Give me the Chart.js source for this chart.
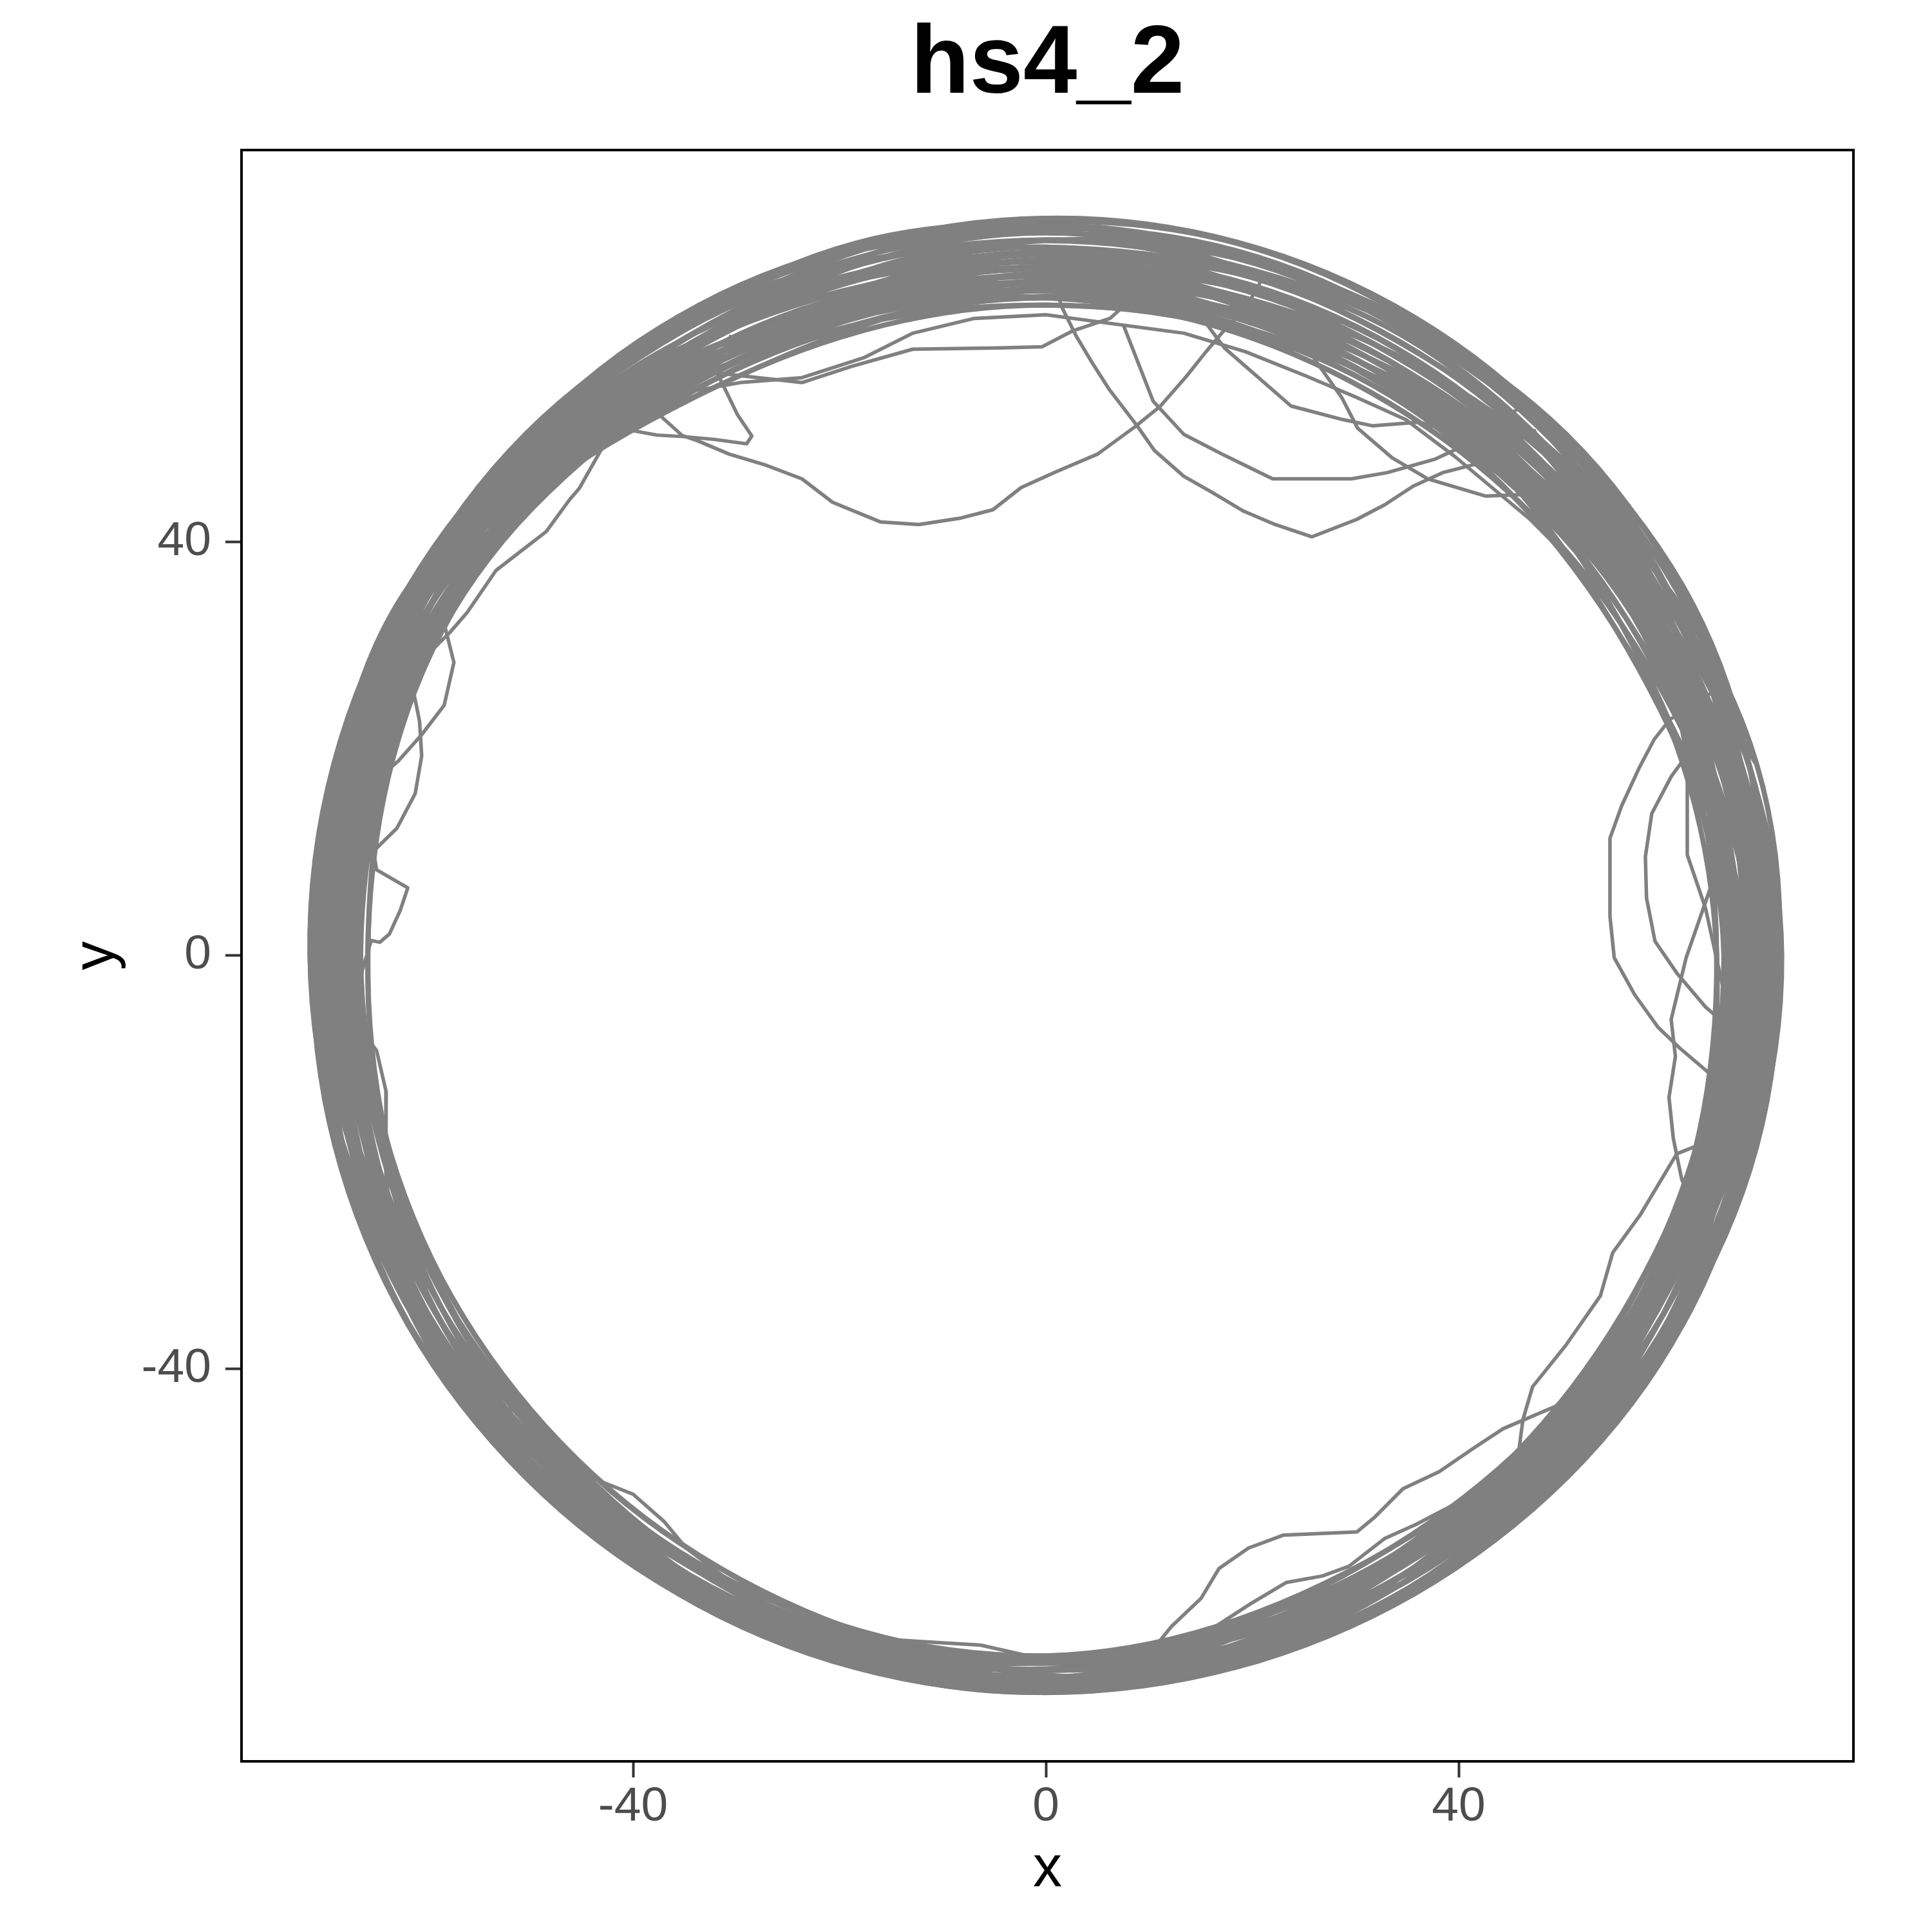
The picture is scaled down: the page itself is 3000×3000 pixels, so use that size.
<!DOCTYPE html>
<html>
<head>
<meta charset="utf-8">
<title>hs4_2</title>
<script src="https://cdn.jsdelivr.net/npm/chart.js@4.4.0/dist/chart.umd.min.js"></script>
<style>
    html, body { margin: 0; padding: 0; background: #ffffff; }
    #wrap { width: 3000px; height: 3000px; }
</style>
</head>
<body>
<div id="wrap"><canvas id="trackChart" width="3000" height="3000"></canvas></div>
<script>
// --- DATOS (unidades del eje) ---
const xTicks = [-40, 0, 40];
const yTicks = [-40, 0, 40];

// vueltas pegadas a la pared, un punto cada 30 grados (0, 30, ... 330)
const wallLaps1 = [
    [71.3,0],[61.14,35.3],[35.65,61.75],[0,71.3],[-35.3,61.14],[-61.75,35.65],[-71.3,0],[-61.14,-35.3],[-35.65,-61.75],[0,-71.3],[35.3,-61.14],[61.75,-35.65],
    [69.9,0],[61.75,35.65],[34.95,60.53],[0,70.6],[-35.65,61.75],[-60.53,34.95],[-70.6,0],[-61.75,-35.65],[-34.95,-60.53],[0,-70.6],[35.65,-61.75],[60.53,-34.95],
    [70.6,0],[59.93,34.6],[35.3,61.14],[0,69.2],[-34.95,60.53],[-61.14,35.3],[-69.2,0],[-60.53,-34.95],[-35.3,-61.14],[0,-71.3],[34.95,-60.53],[61.14,-35.3],
    [68.5,0],[60.53,34.95],[34.25,59.32],[0,69.9],[-34.25,59.32],[-59.93,34.6],[-69.9,0],[-59.32,-34.25],[-34.6,-59.93],[0,-69.9],[34.25,-59.32],[59.93,-34.6]
];
const wallLaps2 = [
    [69.2,0],[58.71,33.9],[34.6,59.93],[0,67.8],[-34.6,59.93],[-59.32,34.25],[-67.8,0],[-59.93,-34.6],[-34.25,-59.32],[0,-69.2],[34.6,-59.93],[58.71,-33.9],
    [67.8,0],[59.32,34.25],[33.55,58.11],[0,68.5],[-33.9,58.71],[-60.53,34.95],[-68.5,0],[-58.71,-33.9],[-34.95,-60.53],[0,-68.5],[33.9,-58.71],[59.32,-34.25],
    [67.1,0],[57.5,33.2],[33.9,58.71],[0,66.4],[-33.55,58.11],[-58.71,33.9],[-67.1,0],[-58.11,-33.55],[-33.9,-58.71],[0,-67.8],[33.55,-58.11],[58.11,-33.55],
    [66.4,0],[58.11,33.55],[32.85,56.9],[0,67.1],[-33.2,57.5],[-58.11,33.55],[-66.4,0],[-57.5,-33.2],[-33.55,-58.11],[0,-68.5],[33.2,-57.5],[57.5,-33.2]
];
const wallLaps3 = [
    [65.7,0],[55.68,32.15],[33.2,57.5],[0,65.0],[-32.85,56.9],[-57.5,33.2],[-65.7,0],[-58.11,-33.55],[-34.25,-59.32],[0,-67.8],[33.9,-58.71],[57.5,-33.2],
    [65.0,0],[56.9,32.85],[32.15,55.68],[0,65.7],[-32.5,56.29],[-58.71,33.9],[-66.4,0],[-58.71,-33.9],[-34.6,-59.93],[0,-69.9],[33.55,-58.11],[58.11,-33.55],
    [66.4,0],[55.08,31.8],[32.5,56.29],[0,63.6],[-32.15,55.68],[-59.32,34.25],[-67.1,0],[-59.32,-34.25],[-34.95,-60.53],[0,-70.6],[34.25,-59.32],[58.71,-33.9],
    [67.1,0],[56.29,32.5],[31.8,55.08],[0,64.3],[-32.85,56.9],[-59.93,34.6],[-67.8,0],[-59.93,-34.6],[-35.3,-61.14],[0,-71.3],[34.6,-59.93],[59.32,-34.25]
];
const wallLaps4 = [
    [67.8,0],[55.68,32.15],[31.45,54.47],[0,63.6],[-33.2,57.5],[-60.53,34.95],[-68.5,0],[-60.53,-34.95],[-35.65,-61.75],[0,-70.6],[34.95,-60.53],[59.93,-34.6],
    [68.5,0],[56.9,32.85],[32.15,55.68],[0,62.9],[-32.5,56.29],[-61.14,35.3],[-69.2,0],[-61.14,-35.3],[-34.95,-60.53],[0,-71.3],[35.3,-61.14],[60.53,-34.95],
    [69.9,0],[57.5,33.2],[32.5,56.29],[0,64.3],[-31.8,55.08],[-61.75,35.65],[-69.9,0],[-61.75,-35.65],[-35.3,-61.14],[0,-69.9],[35.65,-61.75],[61.14,-35.3],
    [70.6,0],[58.71,33.9],[33.2,57.5],[0,65.7],[-33.55,58.11],[-61.14,35.3],[-70.6,0],[-61.75,-35.65],[-35.65,-61.75],[0,-70.6],[35.65,-61.75],[61.75,-35.65],[71.3,0]
];

// mas vueltas, puntos a 15, 45, ... 345 grados
const wallLaps5 = [
    [68.88,18.47],[49.91,49.91],[18.47,68.88],[-18.29,68.2],[-50.41,50.41],[-68.2,18.29],[-68.88,-18.47],[-50.41,-50.41],[-18.29,-68.2],[18.47,-68.88],[49.91,-49.91],[68.88,-18.47],
    [68.2,18.29],[50.41,50.41],[18.1,67.52],[-18.47,68.88],[-49.42,49.42],[-68.88,18.47],[-68.2,-18.29],[-49.91,-49.91],[-18.47,-68.88],[18.29,-68.2],[50.41,-50.41],[68.2,-18.29],
    [67.52,18.1],[49.42,49.42],[18.29,68.2],[-18.1,67.52],[-49.91,49.91],[-67.52,18.1],[-67.52,-18.1],[-50.41,-50.41],[-18.1,-67.52],[18.1,-67.52],[49.42,-49.42],[67.52,-18.1],
    [66.85,17.92],[49.91,49.91],[17.92,66.85],[-17.92,66.85],[-48.92,48.92],[-68.2,18.29],[-66.85,-17.92],[-49.42,-49.42],[-18.47,-68.88],[18.29,-68.2],[48.92,-48.92],[66.85,-17.92]
];
const wallLaps6 = [
    [66.17,17.74],[48.92,48.92],[18.1,67.52],[-17.74,66.17],[-49.42,49.42],[-66.85,17.92],[-66.17,-17.74],[-49.91,-49.91],[-17.92,-66.85],[18.47,-68.88],[49.42,-49.42],[66.17,-17.74],
    [65.49,17.56],[48.43,48.43],[17.74,66.17],[-17.56,65.49],[-48.43,48.43],[-66.17,17.74],[-65.49,-17.56],[-48.92,-48.92],[-18.1,-67.52],[18.1,-67.52],[48.43,-48.43],[65.49,-17.56],
    [64.82,17.38],[47.93,47.93],[17.56,65.49],[-17.38,64.82],[-48.92,48.92],[-65.49,17.56],[-64.82,-17.38],[-48.43,-48.43],[-17.74,-66.17],[18.29,-68.2],[47.93,-47.93],[64.82,-17.38],
    [64.14,17.2],[47.44,47.44],[17.38,64.82],[-17.2,64.14],[-47.93,47.93],[-64.82,17.38],[-64.14,-17.2],[-47.93,-47.93],[-18.29,-68.2],[17.92,-66.85],[47.44,-47.44],[64.14,-17.2]
];
const wallLaps7 = [
    [63.47,17.02],[46.94,46.94],[17.2,64.14],[-17.02,63.47],[-47.44,47.44],[-64.14,17.2],[-64.82,-17.38],[-47.44,-47.44],[-17.92,-66.85],[17.74,-66.17],[46.94,-46.94],[63.47,-17.02],
    [64.82,17.38],[46.45,46.45],[17.02,63.47],[-16.84,62.79],[-46.94,46.94],[-64.82,17.38],[-65.49,-17.56],[-47.93,-47.93],[-17.74,-66.17],[17.56,-65.49],[48.43,-48.43],[64.82,-17.38],
    [65.49,17.56],[45.96,45.96],[16.84,62.79],[-16.65,62.11],[-46.45,46.45],[-65.49,17.56],[-66.17,-17.74],[-48.43,-48.43],[-17.56,-65.49],[17.92,-66.85],[48.92,-48.92],[65.49,-17.56],
    [66.17,17.74],[45.46,45.46],[16.65,62.11],[-16.47,61.44],[-47.44,47.44],[-66.17,17.74],[-66.85,-17.92],[-48.92,-48.92],[-18.1,-67.52],[18.1,-67.52],[49.42,-49.42],[66.17,-17.74]
];
const wallLaps8 = [
    [66.85,17.92],[46.45,46.45],[16.47,61.44],[-16.65,62.11],[-47.93,47.93],[-66.85,17.92],[-67.52,-18.1],[-49.42,-49.42],[-18.29,-68.2],[18.29,-68.2],[49.91,-49.91],[66.85,-17.92],
    [67.52,18.1],[46.94,46.94],[16.65,62.11],[-16.84,62.79],[-48.43,48.43],[-67.52,18.1],[-68.2,-18.29],[-49.91,-49.91],[-18.47,-68.88],[18.47,-68.88],[50.41,-50.41],[67.52,-18.1],
    [68.2,18.29],[47.44,47.44],[16.84,62.79],[-17.02,63.47],[-48.92,48.92],[-68.2,18.29],[-68.88,-18.47],[-50.41,-50.41],[-18.1,-67.52],[18.47,-68.88],[49.91,-49.91],[68.2,-18.29],
    [68.88,18.47],[48.43,48.43],[17.2,64.14],[-17.38,64.82],[-49.42,49.42],[-68.88,18.47],[-67.52,-18.1],[-49.91,-49.91],[-18.47,-68.88],[18.29,-68.2],[50.41,-50.41],[68.88,-18.47]
];
const wallLaps9 = [
    [70.6,0],[61.75,35.65],[35.3,61.14],[0,69.9],[-35.65,61.75],[-61.14,35.3],[-69.9,0],[-61.75,-35.65],[-35.3,-61.14],[0,-71.3],[34.95,-60.53],[61.14,-35.3],
    [71.3,0],[60.53,34.95],[35.65,61.75],[0,71.3],[-34.95,60.53],[-61.75,35.65],[-71.3,0],[-60.53,-34.95],[-35.65,-61.75],[0,-70.6],[35.65,-61.75],[61.75,-35.65],
    [69.2,0],[61.14,35.3],[34.95,60.53],[0,70.6],[-34.6,59.93],[-60.53,34.95],[-70.6,0],[-59.93,-34.6],[-34.95,-60.53],[0,-71.3],[35.3,-61.14],[59.93,-34.6],
    [69.9,0],[59.32,34.25],[34.6,59.93],[0,68.5],[-35.3,61.14],[-59.93,34.6],[-68.5,0],[-61.14,-35.3],[-34.6,-59.93],[0,-69.9],[34.6,-59.93],[60.53,-34.95]
];
const wallLaps10 = [
    [67.8,0],[60.53,34.95],[34.25,59.32],[0,69.2],[-33.9,58.71],[-59.32,34.25],[-69.2,0],[-58.71,-33.9],[-35.3,-61.14],[0,-69.2],[34.95,-60.53],[59.32,-34.25],
    [68.5,0],[58.11,33.55],[33.9,58.71],[0,67.1],[-34.25,59.32],[-58.11,33.55],[-67.8,0],[-59.32,-34.25],[-33.9,-58.71],[0,-68.5],[34.25,-59.32],[58.11,-33.55],
    [66.4,0],[58.71,33.9],[33.55,58.11],[0,67.8],[-33.2,57.5],[-58.71,33.9],[-66.4,0],[-58.11,-33.55],[-34.25,-59.32],[0,-67.8],[33.2,-57.5],[58.71,-33.9],
    [67.1,0],[56.9,32.85],[33.2,57.5],[0,65.7],[-33.55,58.11],[-57.5,33.2],[-67.1,0],[-57.5,-33.2],[-33.55,-58.11],[0,-69.2],[33.55,-58.11],[57.5,-33.2]
];
const wallLaps11 = [
    [65.7,0],[57.5,33.2],[32.5,56.29],[0,66.4],[-32.85,56.9],[-58.11,33.55],[-65.7,0],[-58.71,-33.9],[-34.6,-59.93],[0,-68.5],[33.9,-58.71],[58.11,-33.55],
    [65.0,0],[55.68,32.15],[32.85,56.9],[0,64.3],[-32.5,56.29],[-57.5,33.2],[-66.4,0],[-58.11,-33.55],[-34.25,-59.32],[0,-69.9],[33.55,-58.11],[56.9,-32.85],
    [66.4,0],[56.29,32.5],[32.15,55.68],[0,65.0],[-32.15,55.68],[-58.71,33.9],[-67.1,0],[-59.32,-34.25],[-34.95,-60.53],[0,-70.6],[33.9,-58.71],[57.5,-33.2],
    [67.1,0],[55.08,31.8],[31.8,55.08],[0,62.9],[-31.8,55.08],[-59.32,34.25],[-67.8,0],[-59.93,-34.6],[-35.3,-61.14],[0,-71.3],[34.25,-59.32],[58.11,-33.55]
];
const wallLaps12 = [
    [67.8,0],[55.68,32.15],[31.45,54.47],[0,63.6],[-32.15,55.68],[-59.93,34.6],[-68.5,0],[-60.53,-34.95],[-35.65,-61.75],[0,-70.6],[34.6,-59.93],[58.71,-33.9],
    [68.5,0],[56.29,32.5],[31.8,55.08],[0,64.3],[-32.5,56.29],[-60.53,34.95],[-69.2,0],[-61.14,-35.3],[-35.3,-61.14],[0,-71.3],[34.95,-60.53],[59.32,-34.25],
    [69.2,0],[57.5,33.2],[32.15,55.68],[0,65.0],[-32.85,56.9],[-61.14,35.3],[-69.9,0],[-61.75,-35.65],[-34.95,-60.53],[0,-71.3],[35.3,-61.14],[59.93,-34.6],
    [69.9,0],[58.11,33.55],[32.85,56.9],[0,66.4],[-33.55,58.11],[-61.75,35.65],[-70.6,0],[-61.75,-35.65],[-35.65,-61.75],[0,-70.6],[35.65,-61.75],[60.53,-34.95],[69.9,0]
];

// salidas hacia el centro
const topDip = [[-39.5,55.5],[-37.61,52.42],[-35.22,50.27],[-33.79,49.79],[-30.69,48.48],[-27.1,47.4],[-23.64,46.09],[-20.66,43.82],[-16.0,41.91],[-12.3,41.67],[-8.36,42.27],[-5.13,43.1],[-2.39,45.25],[1.07,46.81],[5.01,48.48],[8.6,51.1],[11.1,53.13],[13.61,56.0],[15.52,58.39],[17.55,60.78],[19.34,62.57],[21.0,65.5]];
const topRightDip = [[0.5,66.0],[1.55,62.69],[2.99,59.82],[4.42,57.43],[6.09,54.81],[8.84,51.22],[10.51,48.84],[13.37,46.33],[16.12,44.78],[19.1,42.99],[22.21,41.67],[25.79,40.48],[30.09,42.15],[32.84,43.58],[35.58,45.37],[38.45,46.69],[41.67,47.52],[44.66,49.19],[47.5,50.8]];
const topRightFlat = [[7.5,61.0],[10.39,53.61],[13.37,50.39],[17.31,48.36],[21.97,46.09],[29.61,46.09],[33.07,46.69],[37.73,48.0],[41.07,49.55],[43.82,51.22],[45.85,53.01]];
const topRightCross1 = [[14.5,62.5],[17.31,58.75],[23.76,53.13],[28.78,51.82],[31.64,51.22],[36.18,51.58],[40.12,50.39],[44.78,48.72],[48.0,45.85],[50.39,42.87],[54.5,39.0]];
const topRightCross2 = [[24.5,62.0],[26.03,57.67],[28.66,53.97],[30.21,50.99],[33.55,48.12],[37.01,46.09],[42.63,44.42],[48.6,44.66],[52.18,45.61]];
const topInnerArc = [[-43.94,53.01],[-34.99,54.45],[-29.61,55.4],[-23.64,55.88],[-17.67,57.79],[-12.9,60.18],[-6.93,61.61],[0,61.97],[6.21,61.13],[13.37,60.18],[19.34,58.39],[25.31,56.0],[30.09,53.97],[34.87,51.82],[39.64,48.24],[43.22,45.25],[46.81,42.27],[50.99,38.09]];
const topLeftArc = [[-34.39,56.6],[-23.64,55.4],[-18.87,56.96],[-12.9,58.63],[-4.54,58.75],[-0.36,58.87],[2.63,60.42],[6.21,61.61],[10.0,65.0]];
const upperLeftV = [[-43.94,51.82],[-40.74,50.88],[-37.67,50.32],[-35.16,50.18],[-32.11,49.9],[-28.99,49.48],[-28.49,50.23],[-29.87,52.27],[-30.81,54.21],[-32.0,56.6],[-30.5,60.0]];
const upperLeftDiag = [[-41.55,53.01],[-42.69,49.62],[-45.21,45.17],[-46.17,44.05],[-48.41,40.99],[-53.28,37.23],[-56.06,33.18],[-57.74,31.24],[-60.5,28.5]];
const leftLoopUpper = [[-56.48,36.3],[-58.2,31.69],[-57.36,28.32],[-58.3,24.18],[-60.48,21.34],[-62.77,18.76],[-64.01,17.72],[-66.5,15.5]];
const leftLoopMid = [[-61.85,27.94],[-61.21,25.22],[-60.69,22.64],[-60.48,19.27],[-61.11,15.64],[-62.88,12.29],[-64.74,10.47],[-67.0,8.0]];
const leftHook = [[-65.91,14.81],[-64.85,8.26],[-61.83,6.52],[-62.57,4.3],[-63.61,2.05],[-64.54,1.25],[-65.37,1.42],[-67.0,-4.0]];
const leftLineLow1 = [[-67.0,-4.5],[-65.68,-8.13],[-64.85,-9.24],[-63.92,-13.23],[-63.95,-21.18],[-63.5,-25.0],[-62.88,-27.39],[-61.52,-29.79],[-60.06,-32.36]];
const leftLineLow2 = [[-66.1,-9.4],[-65.89,-14.18],[-65.16,-20.23],[-64.23,-22.94],[-64.0,-27.0]];
const lowerLeftLine = [[-54.09,-41.31],[-52.41,-43.83],[-51.25,-44.16],[-48.27,-47.45],[-46.33,-48.66],[-45.68,-49.53],[-43.62,-50.72],[-39.99,-52.16],[-37.01,-54.78],[-34.82,-57.4],[-30.81,-60.42]];
const lowerRightA = [[-24.0,-64.5],[-17.67,-66.03],[-12.3,-66.39],[-6.33,-66.75],[0,-68.18],[6.21,-67.58],[10.57,-66.93],[12.16,-64.96],[15.03,-62.24],[16.78,-59.34],[19.64,-57.36],[22.99,-56.12],[30.15,-55.8],[31.9,-54.34],[34.6,-51.63],[38.11,-49.97],[41.46,-47.69],[44.32,-45.81],[49.42,-43.63],[52.78,-40.12],[56.0,-37.0]];
const lowerRightB = [[65.5,-17.5],[61.13,-19.22],[57.55,-25.19],[54.93,-28.78],[53.73,-32.96],[50.39,-37.73],[47.16,-41.76],[46.23,-44.92],[45.76,-48.42],[45.0,-50.9],[42.0,-54.5]];
const lowerRightC = [[10.0,-68.5],[15.34,-65.67],[19.8,-62.77],[23.31,-60.69],[26.81,-60.06],[29.36,-59.13],[32.86,-56.42],[35.88,-55.07],[39.86,-52.99],[44.42,-49.67],[48.5,-46.5]];
const rightLoopOuter = [[64.72,25.55],[62.04,23.64],[60.49,22.84],[58.93,20.86],[57.47,18.08],[55.81,14.5],[54.66,11.31],[54.66,3.75],[55.07,-0.24],[57.05,-3.82],[59.34,-7.0],[61.42,-8.99],[65.17,-12.18],[67.7,-15.0]];
const rightLoopInner = [[64.12,20.78],[62.04,19.26],[60.59,17.28],[58.71,13.7],[58.09,9.52],[58.2,5.54],[59.02,1.35],[61.21,-1.83],[63.92,-5.01],[65.99,-6.81],[68.5,-9.0]];
const rightLoopNarrow = [[63.0,28.5],[61.13,24.36],[62.15,18.87],[62.15,9.71],[63.92,4.54],[65.58,-3.02],[67.1,-6.7]];
const rightLoopDown = [[65.91,10.03],[64.54,6.93],[62.04,-0.24],[60.59,-6.21],[61.0,-9.79],[60.38,-13.77],[60.8,-17.74],[61.62,-21.73],[63.08,-24.5],[65.31,-26.99]];

// --- ESTILO ---
const pathColor = '#808080';
const fontFamily = '"Liberation Sans", Arial, Helvetica, sans-serif';

function pathSet(points, smooth) {
    return {
        data: points.map(p => ({ x: p[0], y: p[1] })),
        showLine: true,
        pointRadius: 0,
        borderColor: pathColor,
        borderWidth: smooth ? 8 : 5.5,
        borderJoinStyle: 'round',
        tension: smooth ? 0.35 : 0,
        fill: false
    };
}

const excursions = [
    topDip, topRightDip, topRightFlat, topRightCross1, topRightCross2, topInnerArc, topLeftArc,
    upperLeftV, upperLeftDiag, leftLoopUpper, leftLoopMid, leftHook, leftLineLow1, leftLineLow2,
    lowerLeftLine, lowerRightA, lowerRightB, lowerRightC,
    rightLoopOuter, rightLoopInner, rightLoopNarrow, rightLoopDown
];

const datasets = [
    pathSet([...wallLaps1, ...wallLaps2, ...wallLaps3, ...wallLaps4], true),
    pathSet([...wallLaps5, ...wallLaps6, ...wallLaps7, ...wallLaps8], true),
    pathSet([...wallLaps9, ...wallLaps10, ...wallLaps11, ...wallLaps12], true)
].concat(excursions.map(e => pathSet(e, false)));

// marco negro del panel
const panelBorder = {
    id: 'panelBorder',
    afterDatasetsDraw(chart) {
        const { ctx, chartArea: a } = chart;
        ctx.save();
        ctx.strokeStyle = '#000000';
        ctx.lineWidth = 4;
        ctx.strokeRect(a.left, a.top, a.right - a.left, a.bottom - a.top);
        ctx.restore();
    }
};

new Chart(document.getElementById('trackChart'), {
    type: 'scatter',
    data: { datasets: datasets },
    options: {
        responsive: false,
        devicePixelRatio: 1,
        animation: false,
        layout: { padding: { left: 0, right: 122, top: 0, bottom: 0 } },
        plugins: {
            legend: { display: false },
            tooltip: { enabled: false },
            title: {
                display: true,
                text: 'hs4_2',
                fullSize: false,
                color: '#000000',
                font: { family: fontFamily, size: 150, weight: 'bold' },
                padding: { top: 13, bottom: 40 }
            }
        },
        scales: {
            x: {
                type: 'linear',
                position: 'bottom',
                min: -77.94,
                max: 78.25,
                afterBuildTicks: s => { s.ticks = xTicks.map(v => ({ value: v })); },
                afterFit: s => { s.height = 265; },
                border: { display: false },
                grid: { drawOnChartArea: false, drawTicks: true, tickLength: 25, tickColor: '#333333', tickWidth: 4 },
                ticks: { padding: 1, color: '#4d4d4d', font: { family: fontFamily, size: 75 }, callback: v => String(v) },
                title: { display: true, text: 'x', color: '#000000', font: { family: fontFamily, size: 90 }, padding: { top: 0, bottom: 42 } }
            },
            y: {
                type: 'linear',
                position: 'left',
                min: -78.0,
                max: 77.9,
                afterBuildTicks: s => { s.ticks = yTicks.map(v => ({ value: v })); },
                afterFit: s => { s.width = 375; },
                border: { display: false },
                grid: { drawOnChartArea: false, drawTicks: true, tickLength: 25, tickColor: '#333333', tickWidth: 4 },
                ticks: { padding: 22, color: '#4d4d4d', font: { family: fontFamily, size: 75 }, callback: v => String(v) },
                title: { display: true, text: 'y', color: '#000000', font: { family: fontFamily, size: 90 }, padding: { top: 97, bottom: 0 } }
            }
        }
    },
    plugins: [panelBorder]
});
</script>
</body>
</html>
